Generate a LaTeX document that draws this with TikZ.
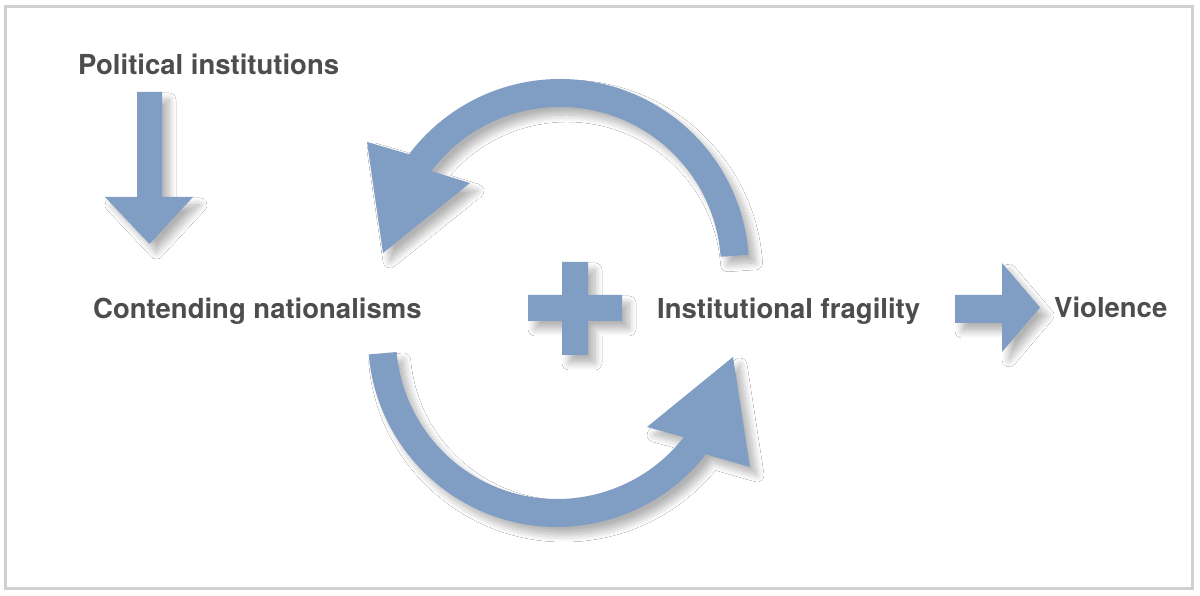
\documentclass[tikz,border=0pt]{standalone}
\usepackage{fontspec}
\setmainfont{TeX Gyre Heros}
\usetikzlibrary{shadows.blur}

\definecolor{arrowblue}{RGB}{128,158,196}
\definecolor{textgray}{RGB}{77,77,79}
\definecolor{framegray}{RGB}{208,208,208}

\begin{document}
\begin{tikzpicture}[x=1pt, y=1pt,
    blockarrow/.style={fill=arrowblue,
      blur shadow={shadow xshift=7pt, shadow yshift=-8pt,
        shadow blur radius=7pt, shadow blur steps=12, shadow opacity=30}},
    factor/.style={font=\fontsize{27.5}{30}\selectfont\bfseries,
      text=textgray, inner sep=0pt, anchor=base west}]
    % Page and frame
    \useasboundingbox (0,0) rectangle (1200,596);
    \fill[white] (0,0) rectangle (1200,596);
    \draw[framegray, line width=3pt] (5.5,589.5) rectangle (1192,7.5);

    % Labels
    \node[factor] (political) at (78,521) {Political institutions};
    \node[factor] (nationalisms) at (93,277) {Contending nationalisms};
    \node[factor] (fragility) at (657,277) {Institutional fragility};
    \node[factor] (violence) at (1054,278) {Violence};

    % Centres of the two curved arrows
    \coordinate (topc) at (560,328);
    \coordinate (botc) at (557,258);

    % Straight arrow down
    \fill[blockarrow] (137,504) -- (162,504) -- (162,399) -- (193,399)
      -- (149.5,352) -- (105,399) -- (137,399) -- cycle;

    % Upper curved arrow (fragility back to nationalisms)
    \fill[blockarrow] ([shift={(4:189)}]topc)
      arc[start angle=4, end angle=143, radius=189]
      -- (367,454) -- (383,343) -- (470,413)
      -- ([shift={(143:161)}]topc)
      arc[start angle=143, end angle=4, radius=161] -- cycle;

    % Lower curved arrow (nationalisms on to fragility)
    \fill[blockarrow] ([shift={(185:189)}]botc)
      arc[start angle=185, end angle=322, radius=189]
      -- (750,129) -- (733,239) -- (647,169)
      -- ([shift={(322:161)}]botc)
      arc[start angle=322, end angle=185, radius=161] -- cycle;

    % Plus sign
    \fill[blockarrow] (562,334) -- (588,334) -- (588,301) -- (622,301)
      -- (622,275) -- (588,275) -- (588,241) -- (562,241) -- (562,275)
      -- (528,275) -- (528,301) -- (562,301) -- cycle;

    % Arrow to violence
    \fill[blockarrow] (955,301) -- (1002,301) -- (1002,333) -- (1040,288.5)
      -- (1002,244) -- (1002,273) -- (955,273) -- cycle;
\end{tikzpicture}
\end{document}
